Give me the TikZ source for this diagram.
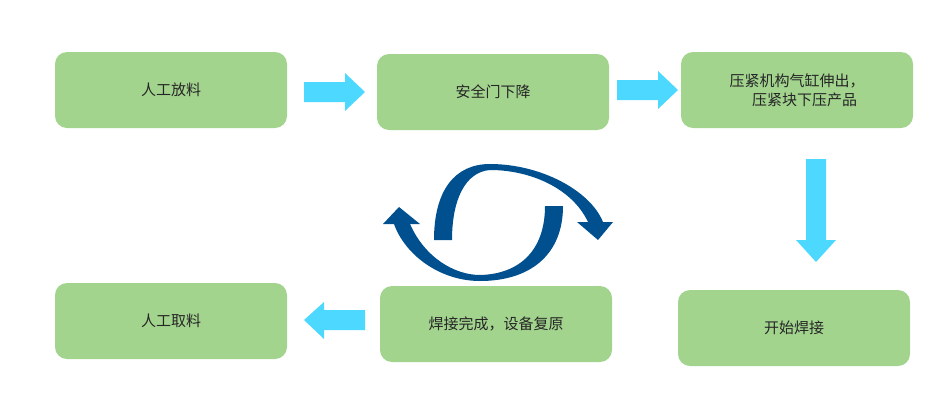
\documentclass[tikz,border=0pt]{standalone}
\usepackage{fontspec}
\newfontfamily\cjk{Noto Sans CJK SC}
\begin{document}
\begin{tikzpicture}[x=1pt,y=-1pt,
  box/.style={fill=boxg,draw=none,rounded corners=12pt,minimum width=232pt,minimum height=76pt,inner sep=0pt,font=\cjk\fontsize{15}{19}\selectfont,text=black!85,align=center},
  blk/.style={fill=cyanA,draw=none},
  circ/.style={fill=navyA,draw=none}]
\definecolor{boxg}{HTML}{A2D48E}
\definecolor{cyanA}{HTML}{4DD8FF}
\definecolor{navyA}{HTML}{00508F}
\useasboundingbox (0,0) rectangle (949,405);
\node[box] (b1) at (171,90) {人工放料};
\node[box] (b2) at (493,92) {安全门下降};
\node[box] (b3) at (797,90) {压紧机构气缸伸出，\\\quad 压紧块下压产品};
\node[box] (b4) at (171,321) {人工取料};
\node[box] (b5) at (496,324) {焊接完成，设备复原};
\node[box] (b6) at (794,328) {开始焊接};
% block arrows
\fill[blk] (304,82) -- (345,82) -- (345,73) -- (365,92) -- (345,111) -- (345,102) -- (304,102) -- cycle;
\fill[blk] (617,80) -- (658,80) -- (658,71) -- (678,90) -- (658,109) -- (658,100) -- (617,100) -- cycle;
\fill[blk] (806,159) -- (826,159) -- (826,240) -- (836,240) -- (816,262) -- (796,240) -- (806,240) -- cycle;
\fill[blk] (365,310) -- (324,310) -- (324,302) -- (304,320) -- (324,339) -- (324,330) -- (365,330) -- cycle;
% circular arrows
\fill[circ] (434,240) .. controls (434,190) and (455,164) .. (490,164)
  .. controls (540,164) and (590,190) .. (603,222) -- (613,222) -- (598,240) -- (577,222) -- (588,222)
  .. controls (572,188) and (530,170) .. (490,170) .. controls (465,172) and (452,200) .. (452,240) -- cycle;
\fill[circ] (563,206) .. controls (563,255) and (530,281) .. (480,281)
  .. controls (440,281) and (405,255) .. (394,224) -- (383,224) -- (399,207) -- (420,224) -- (410,224)
  .. controls (425,258) and (455,275) .. (480,275) .. controls (520,274) and (545,250) .. (545,206) -- cycle;
\end{tikzpicture}
\end{document}
